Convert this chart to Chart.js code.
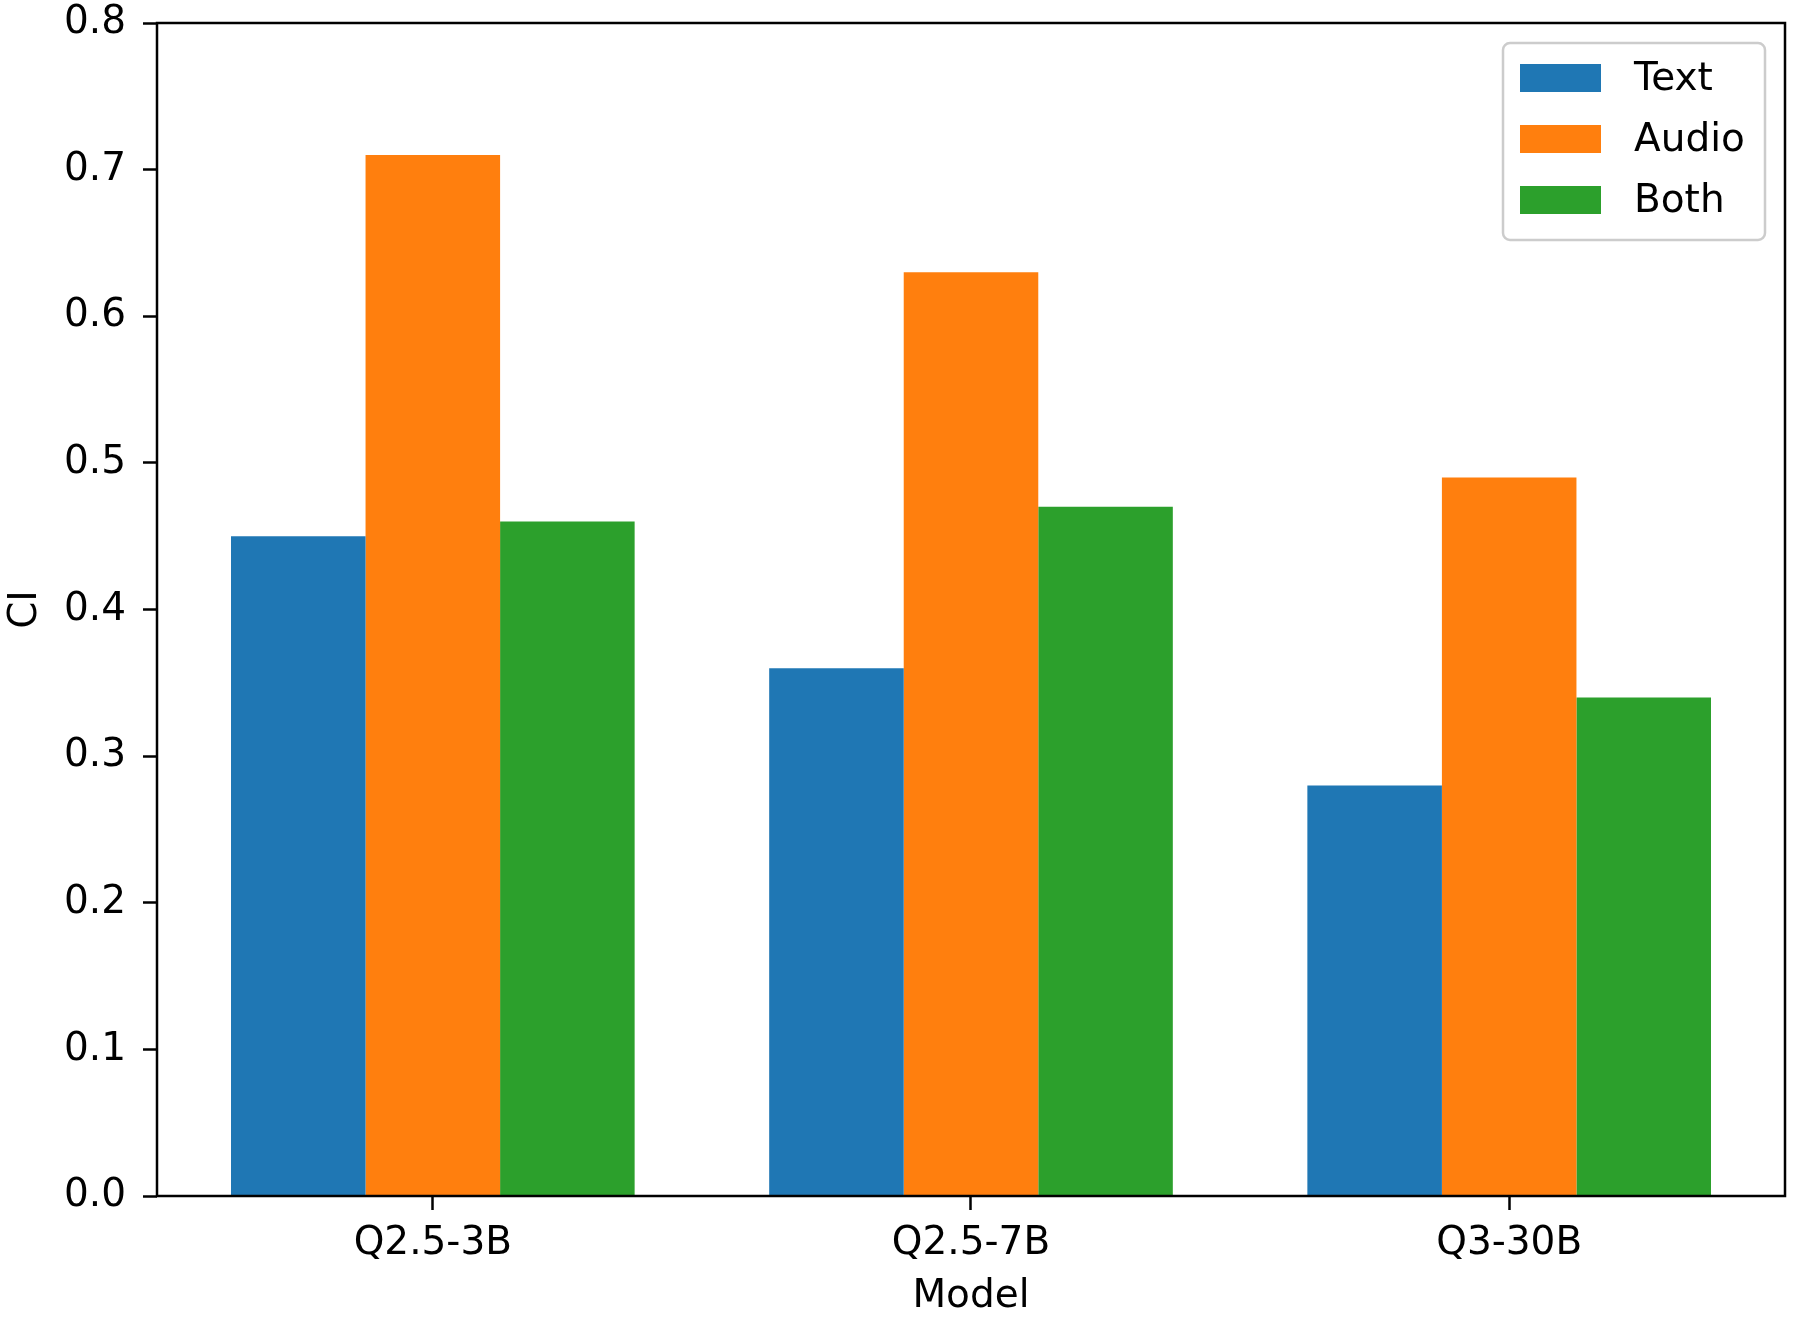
<!DOCTYPE html>
<html>
<head>
<meta charset="utf-8">
<script src="https://cdn.jsdelivr.net/npm/chart.js@4"></script>
<style>
  body { margin: 0; background: #fff; }
  #myChart { display: block; }
</style>
</head>
<body>
<canvas id="myChart" width="1800" height="1325"></canvas>
<script>
// data
const models = ['Q2.5-3B', 'Q2.5-7B', 'Q3-30B'];
const textCI = [0.45, 0.36, 0.28];
const audioCI = [0.71, 0.63, 0.49];
const bothCI = [0.46, 0.47, 0.34];
const yTicks = [0.0, 0.1, 0.2, 0.3, 0.4, 0.5, 0.6, 0.7, 0.8];

const FONT = 'DejaVu Sans';
const FS = 39;

const toPoints = (vals) => vals.map((v, i) => ({ x: i, y: v }));

// axes frame on all four sides, like matplotlib
const framePlugin = {
  id: 'frame',
  afterDatasetsDraw(chart) {
    const { ctx, chartArea: a } = chart;
    ctx.save();
    ctx.strokeStyle = '#000';
    ctx.lineWidth = 2.5;
    ctx.strokeRect(a.left, a.top, a.right - a.left, a.bottom - a.top);
    ctx.restore();
  }
};

// legend box in the upper right corner of the plot area
const boxLegend = {
  id: 'boxLegend',
  afterDraw(chart) {
    const { ctx, chartArea: a } = chart;
    const w = 262, h = 197, r = 7;
    const x0 = a.right - 20 - w;
    const y0 = a.top + 20;
    ctx.save();
    ctx.beginPath();
    ctx.roundRect(x0, y0, w, h, r);
    ctx.fillStyle = 'rgba(255,255,255,0.8)';
    ctx.fill();
    ctx.lineWidth = 2.5;
    ctx.strokeStyle = '#cccccc';
    ctx.stroke();
    ctx.font = FS + 'px "' + FONT + '"';
    ctx.textBaseline = 'middle';
    ctx.textAlign = 'left';
    chart.data.datasets.forEach((ds, i) => {
      const cy = y0 + 35 + i * 61;
      ctx.fillStyle = ds.backgroundColor;
      ctx.fillRect(x0 + 17, cy - 14, 81, 28);
      ctx.fillStyle = '#000';
      ctx.fillText(ds.label, x0 + 131, cy + 2);
    });
    ctx.restore();
  }
};

const ctx = document.getElementById('myChart').getContext('2d');
const myChart = new Chart(ctx, {
  type: 'bar',
  data: {
    datasets: [
      { label: 'Text', data: toPoints(textCI), backgroundColor: '#1f77b4' },
      { label: 'Audio', data: toPoints(audioCI), backgroundColor: '#ff7f0e' },
      { label: 'Both', data: toPoints(bothCI), backgroundColor: '#2ca02c' }
    ]
  },
  options: {
    responsive: false,
    devicePixelRatio: 1,
    animation: false,
    datasets: {
      bar: { categoryPercentage: 0.75, barPercentage: 1.0, borderWidth: 0 }
    },
    layout: { padding: { left: 0, top: 23, right: 15, bottom: 0 } },
    plugins: {
      legend: { display: false },
      tooltip: { enabled: false }
    },
    scales: {
      x: {
        type: 'linear',
        offset: false,
        min: -0.5125,
        max: 2.5125,
        afterBuildTicks: (scale) => {
          scale.ticks = models.map((m, i) => ({ value: i }));
        },
        afterFit: (scale) => { scale.height = 129; },
        grid: {
          offset: false,
          drawOnChartArea: false,
          drawTicks: true,
          tickLength: 14,
          tickWidth: 2.5,
          tickColor: '#000'
        },
        border: { display: false },
        ticks: {
          color: '#000',
          font: { family: FONT, size: FS },
          padding: 10,
          maxRotation: 0,
          autoSkip: false,
          callback: (v) => models[v]
        },
        title: {
          display: true,
          text: 'Model',
          color: '#000',
          font: { family: FONT, size: FS },
          padding: { top: 0, bottom: 5 }
        }
      },
      y: {
        min: 0,
        max: 0.8,
        afterBuildTicks: (scale) => {
          scale.ticks = yTicks.map((v) => ({ value: v }));
        },
        afterFit: (scale) => {
          scale.width = 157;
          scale.paddingTop = 0;
        },
        grid: {
          drawOnChartArea: false,
          drawTicks: true,
          tickLength: 14,
          tickWidth: 2.5,
          tickColor: '#000'
        },
        border: { display: false },
        ticks: {
          color: '#000',
          font: { family: FONT, size: FS },
          padding: 17,
          callback: (v) => v.toFixed(1)
        },
        title: {
          display: true,
          text: 'CI',
          color: '#000',
          font: { family: FONT, size: FS },
          padding: { top: 2, bottom: 0 }
        }
      }
    }
  },
  plugins: [framePlugin, boxLegend]
});
</script>
</body>
</html>
